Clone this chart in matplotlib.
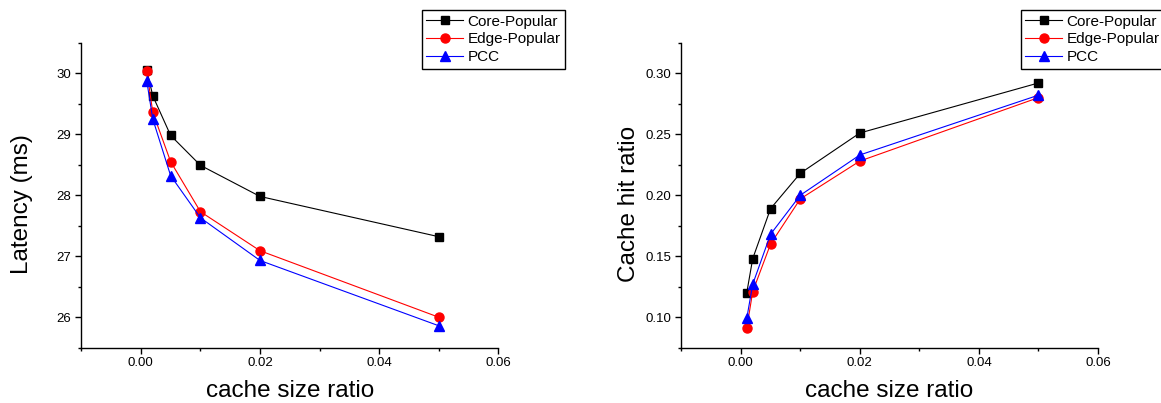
import matplotlib
matplotlib.use('Agg')
from matplotlib import pyplot as plt
from matplotlib.ticker import MultipleLocator

plt.rcParams['font.family'] = ['Liberation Sans', 'DejaVu Sans']

# data
ratio = [0.001, 0.002, 0.005, 0.01, 0.02, 0.05]
names = ['Core-Popular', 'Edge-Popular', 'PCC']

latency_core = [30.05, 29.63, 28.98, 28.49, 27.98, 27.32]
latency_edge = [30.04, 29.36, 28.55, 27.73, 27.09, 26.00]
latency_pcc = [29.87, 29.25, 28.32, 27.63, 26.93, 25.86]

hit_core = [0.120, 0.148, 0.189, 0.218, 0.251, 0.292]
hit_edge = [0.091, 0.121, 0.160, 0.197, 0.228, 0.280]
hit_pcc = [0.099, 0.127, 0.168, 0.200, 0.233, 0.282]

colors = ['black', 'red', 'blue']
markers = ['s', 'o', '^']
msizes = [5.5, 6.5, 6.5]

fig = plt.figure(figsize=(11.61, 4.03), dpi=100)
ax1 = fig.add_axes([0.0700, 0.1372, 0.3592, 0.7568])
ax2 = fig.add_axes([0.5868, 0.1372, 0.3589, 0.7568])


def style(ax, ylab, yticks_major, yminor, ylim, ylab_x):
    for s in ['top', 'right']:
        ax.spines[s].set_visible(False)
    for s in ['left', 'bottom']:
        ax.spines[s].set_linewidth(1.0)
    ax.set_xlim(-0.01, 0.06)
    ax.set_ylim(*ylim)
    ax.xaxis.set_major_locator(MultipleLocator(0.02))
    ax.xaxis.set_minor_locator(MultipleLocator(0.01))
    ax.yaxis.set_major_locator(MultipleLocator(yticks_major))
    ax.yaxis.set_minor_locator(MultipleLocator(yminor))
    ax.tick_params(which='major', direction='out', length=4, width=1, labelsize=9.5, pad=3)
    ax.tick_params(which='minor', direction='out', length=2.5, width=1)
    ax.set_xlabel('cache size ratio', fontsize=17.5)
    ax.set_ylabel(ylab, fontsize=17.5)
    ax.xaxis.set_label_coords(0.5, -0.105)
    ax.yaxis.set_label_coords(ylab_x, 0.47)


series1 = [latency_core, latency_edge, latency_pcc]
series2 = [hit_core, hit_edge, hit_pcc]

for i in range(3):
    ax1.plot(ratio, series1[i], color=colors[i], marker=markers[i],
             markersize=msizes[i], linewidth=0.8, label=names[i])
    ax2.plot(ratio, series2[i], color=colors[i], marker=markers[i],
             markersize=msizes[i], linewidth=0.8, label=names[i])

style(ax1, 'Latency (ms)', 1, 0.5, (25.5, 30.5), -0.116)
ax1.yaxis.set_major_formatter(plt.FormatStrFormatter('%d'))
style(ax2, 'Cache hit ratio', 0.05, 0.025, (0.075, 0.325), -0.099)
ax2.yaxis.set_major_formatter(plt.FormatStrFormatter('%.2f'))
ax1.xaxis.set_major_formatter(plt.FormatStrFormatter('%.2f'))
ax2.xaxis.set_major_formatter(plt.FormatStrFormatter('%.2f'))

for ax, x0 in [(ax1, 0.3632), (ax2, 0.8792)]:
    leg = ax.legend(loc='upper left', bbox_to_anchor=(x0, 0.975),
                    bbox_transform=fig.transFigure, fontsize=11,
                    fancybox=False, framealpha=1, edgecolor='black',
                    borderaxespad=0, handlelength=2.4, handletextpad=0.3,
                    labelspacing=0.25, borderpad=0.3)
    leg.get_frame().set_linewidth(1.0)

plt.savefig('out.png', dpi=100)
